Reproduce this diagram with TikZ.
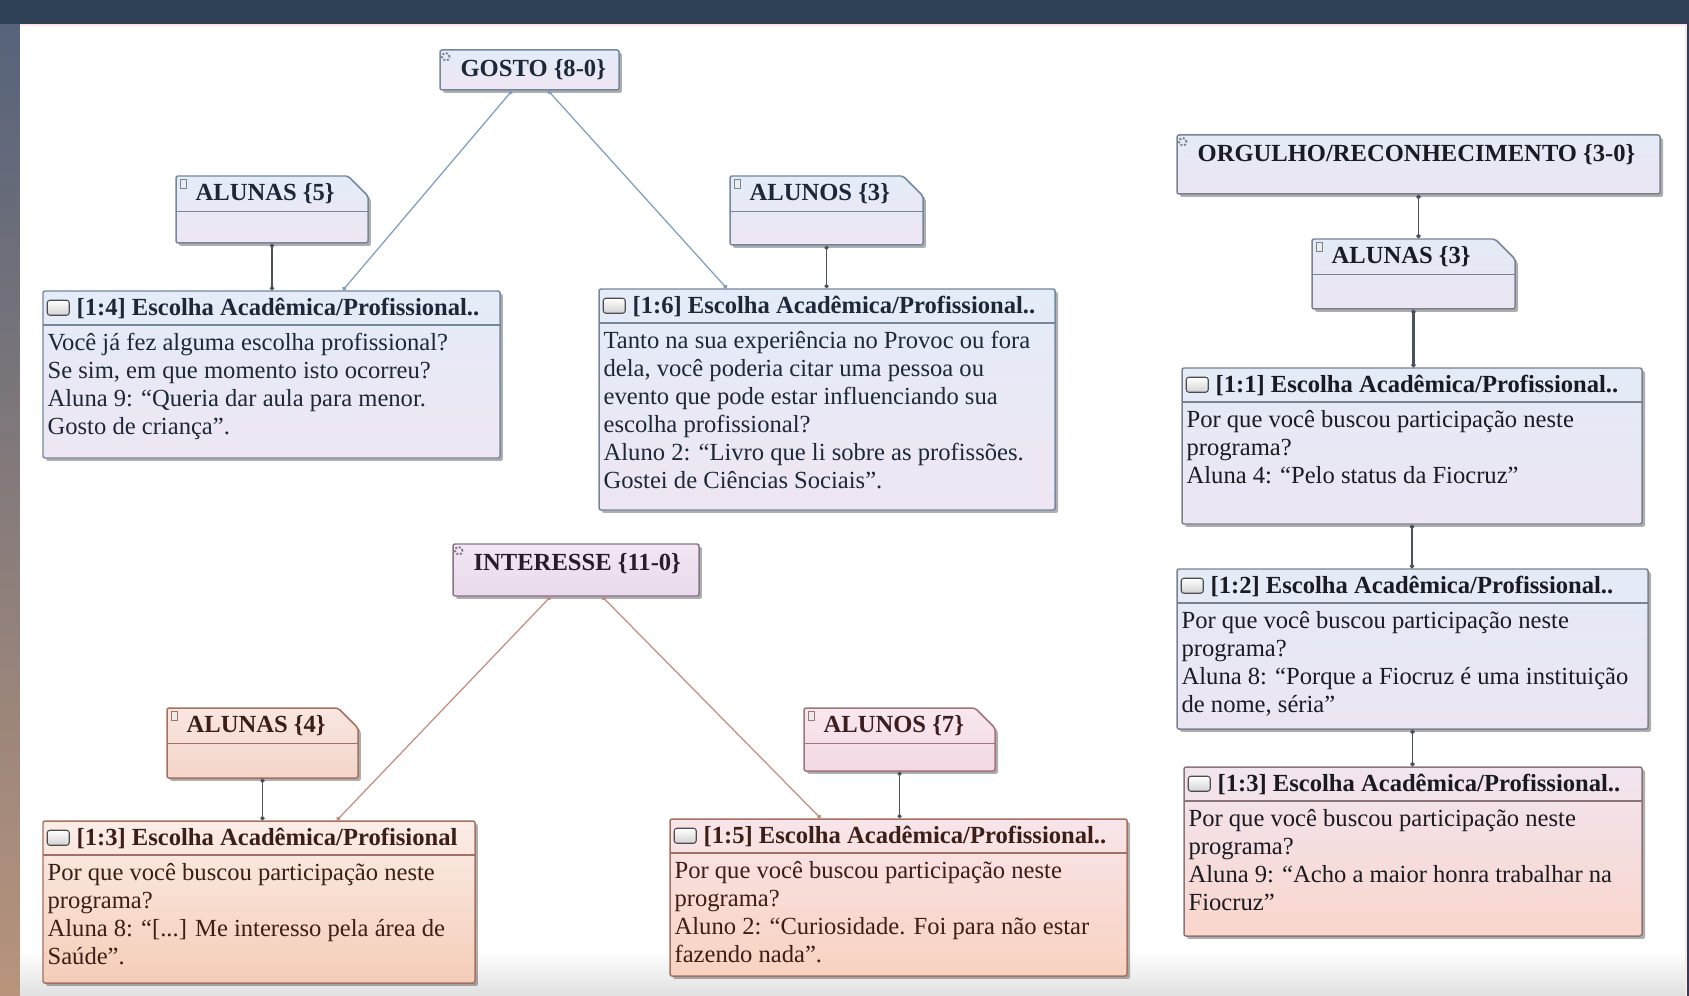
\documentclass[tikz,border=0pt]{standalone}
\usepackage{fontspec}
\setmainfont{Liberation Serif}
\usetikzlibrary{arrows.meta,positioning,fit,shadows,shapes.misc}

\definecolor{frame}{HTML}{2E4157}
\definecolor{side1}{HTML}{56637A}
\definecolor{side2}{HTML}{9C8A98}
\definecolor{side3}{HTML}{B8947C}
\definecolor{bltop}{HTML}{E3ECF8}
\definecolor{blbot}{HTML}{EEE6F2}
\definecolor{bledge}{HTML}{75879B}
\definecolor{bltext}{HTML}{1C2838}
\definecolor{lvtop}{HTML}{F2E7F2}
\definecolor{lvbot}{HTML}{E9D9EB}
\definecolor{lvedge}{HTML}{857585}
\definecolor{lvtext}{HTML}{2A1A2A}
\definecolor{pctop}{HTML}{FBEDE7}
\definecolor{pcbot}{HTML}{F4CDB8}
\definecolor{pcedge}{HTML}{A4705F}
\definecolor{pctext}{HTML}{3C1E16}
\definecolor{patop}{HTML}{F9E7E1}
\definecolor{pabot}{HTML}{F3D4C8}
\definecolor{paedge}{HTML}{A4705F}
\definecolor{patext}{HTML}{3C1E16}
\definecolor{pktop}{HTML}{F8E8EF}
\definecolor{pkbot}{HTML}{F3D8E4}
\definecolor{pkedge}{HTML}{A07478}
\definecolor{pktext}{HTML}{3C1E20}
\definecolor{pptop}{HTML}{F8E5EA}
\definecolor{ppbot}{HTML}{F8D2C0}
\definecolor{ppedge}{HTML}{A4705F}
\definecolor{pptext}{HTML}{3C1E16}
\definecolor{gbtop}{HTML}{E3EBF7}
\definecolor{gbbot}{HTML}{ECE5F2}
\definecolor{gbedge}{HTML}{7A8292}
\definecolor{gbtext}{HTML}{1A1A22}
\definecolor{gptop}{HTML}{F1E5F0}
\definecolor{gpbot}{HTML}{FAD6CC}
\definecolor{gpedge}{HTML}{8A7478}
\definecolor{gptext}{HTML}{1A1A22}
\definecolor{blline}{HTML}{7E9DC0}
\definecolor{bnline}{HTML}{C38D7F}
\definecolor{grline}{HTML}{4A525C}

\tikzset{
  skin/.style={draw=#1edge, top color=#1top, bottom color=#1bot},
  box/.style={line width=0.85pt, inner sep=0pt, rounded corners=1.2pt,
    drop shadow={shadow xshift=1.7pt, shadow yshift=-1.7pt, fill=black!70, opacity=0.45}},
  rule/.style 2 args={path picture={\draw[#1, line width=0.85pt]
      ([yshift=-#2]path picture bounding box.north west) --
      ([yshift=-#2]path picture bounding box.north east);}},
  tab/.style={chamfered rectangle, chamfered rectangle corners=north east,
    chamfered rectangle xsep=0.2cm, chamfered rectangle ysep=0.2cm},
  title/.style={inner sep=0pt, font=\bfseries\fontsize{14}{16}\selectfont},
  head/.style={inner sep=0pt, font=\bfseries\fontsize{14}{16}\selectfont},
  body/.style={inner sep=0pt, align=left, font=\fontsize{14}{15.9}\selectfont},
  codeicon/.style={circle, draw, densely dotted, line width=1.1pt, minimum size=0.15cm, inner sep=0pt},
  tabicon/.style={rectangle, draw, fill=gray!15, line width=0.5pt, minimum width=0.13cm,
    minimum height=0.17cm, inner sep=0pt},
  qicon/.style={rectangle, draw=gray!60!black, top color=white, bottom color=gray!35,
    line width=0.6pt, rounded corners=1.5pt, minimum width=0.44cm, minimum height=0.3cm, inner sep=0pt},
  link/.style={line width=0.7pt, {Circle[length=2.4pt]}-{Circle[length=2.4pt]}},
}

\newcommand{\CodeNode}[7]{%
  \node[box, skin=#6, fit={(#2,#3) (#4,#5)}] (#1) {};
  \node[codeicon, draw=#6edge] (#1-icon) at ([xshift=0.13cm, yshift=-0.15cm]#1.north west) {};
  \node[title, text=#6text, anchor=west] (#1-title) at ([xshift=0.42cm, yshift=-0.4cm]#1.north west) {#7};
}
\newcommand{\TabNode}[7]{%
  \node[box, tab, skin=#6, rule={#6edge}{0.71cm}, fit={({#2+10},{#3+10}) ({#4-10},{#5-10})}] (#1) {};
  \node[tabicon, draw=#6edge] (#1-icon) at ([xshift=0.16cm, yshift=-0.17cm]#1.north west) {};
  \node[title, text=#6text, anchor=west] (#1-title) at ([xshift=0.4cm, yshift=-0.36cm]#1.north west) {#7};
}
\newcommand{\QuoteNode}[8]{%
  \node[box, skin=#6, rule={#6edge}{0.68cm}, fit={(#2,#3) (#4,#5)}] (#1) {};
  \node[qicon] (#1-icon) at ([xshift=0.32cm, yshift=-0.35cm]#1.north west) {};
  \node[head, text=#6text, anchor=west] (#1-head) at ([xshift=0.68cm, yshift=-0.37cm]#1.north west) {#7};
  \node[body, text=#6text, anchor=north west] (#1-body) at ([xshift=0.1cm, yshift=-0.86cm]#1.north west) {#8};
}

\begin{document}
\begin{tikzpicture}[x=0.02cm, y=-0.02cm]
  \useasboundingbox (0,0) rectangle (1689,996);
  \fill[frame] (0,0) rectangle (1689,996);
  \shade[top color=side1, middle color=side2, bottom color=side3] (0,25) rectangle (20,996);
  \fill[white] (20,25) rectangle (1686,996);
  \shade[top color=white, bottom color=black!12] (20,950) rectangle (1686,996);
  \draw[pink!40, line width=1pt] (20,25) -- (1686,25) -- (1686,996);

  \CodeNode{gosto}{440}{50}{619}{90}{bl}{GOSTO \{8-0\}}
  \TabNode{alunas5}{176}{176}{368}{243}{bl}{ALUNAS \{5\}}
  \TabNode{alunos3}{730}{176}{923}{245}{bl}{ALUNOS \{3\}}
  \QuoteNode{q14}{43}{291}{500}{458}{bl}{[1:4] Escolha Acadêmica/Profissional..}
    {Você já fez alguma escolha profissional?\\Se sim, em que momento isto ocorreu?\\Aluna 9: “Queria dar aula para menor.\\Gosto de criança”.}
  \QuoteNode{q16}{599}{289}{1055}{510}{bl}{[1:6] Escolha Acadêmica/Profissional..}
    {Tanto na sua experiência no Provoc ou fora\\dela, você poderia citar uma pessoa ou\\evento que pode estar influenciando sua\\escolha profissional?\\Aluno 2: “Livro que li sobre as profissões.\\Gostei de Ciências Sociais”.}

  \CodeNode{interesse}{453}{544}{699}{596}{lv}{INTERESSE \{11-0\}}
  \TabNode{alunas4}{167}{708}{358}{778}{pa}{ALUNAS \{4\}}
  \TabNode{alunos7}{804}{708}{995}{771}{pk}{ALUNOS \{7\}}
  \QuoteNode{q13l}{43}{821}{475}{983}{pc}{[1:3] Escolha Acadêmica/Profisional}
    {Por que você buscou participação neste\\programa?\\Aluna 8: “[...] Me interesso pela área de\\Saúde”.}
  \QuoteNode{q15}{670}{819}{1127}{976}{pp}{[1:5] Escolha Acadêmica/Profissional..}
    {Por que você buscou participação neste\\programa?\\Aluno 2: “Curiosidade. Foi para não estar\\fazendo nada”.}

  \CodeNode{orgulho}{1177}{135}{1660}{194}{gb}{ORGULHO/RECONHECIMENTO \{3-0\}}
  \TabNode{alunas3}{1312}{239}{1515}{309}{gb}{ALUNAS \{3\}}
  \QuoteNode{q11}{1182}{368}{1642}{524}{gb}{[1:1] Escolha Acadêmica/Profissional..}
    {Por que você buscou participação neste\\programa?\\Aluna 4: “Pelo status da Fiocruz”}
  \QuoteNode{q12}{1177}{569}{1648}{729}{gb}{[1:2] Escolha Acadêmica/Profissional..}
    {Por que você buscou participação neste\\programa?\\Aluna 8: “Porque a Fiocruz é uma instituição\\de nome, séria”}
  \QuoteNode{q13r}{1184}{767}{1642}{936}{gp}{[1:3] Escolha Acadêmica/Profissional..}
    {Por que você buscou participação neste\\programa?\\Aluna 9: “Acho a maior honra trabalhar na\\Fiocruz”}

  \draw[link, blline] (gosto) -- (q14);
  \draw[link, blline] (gosto) -- (q16);
  \draw[link, grline] (alunas5.south) -- (alunas5.south |- q14.north);
  \draw[link, grline] (alunos3.south) -- (alunos3.south |- q16.north);
  \draw[link, bnline] (interesse) -- (q13l);
  \draw[link, bnline] (interesse) -- (q15);
  \draw[link, grline] (alunas4.south) -- (alunas4.south |- q13l.north);
  \draw[link, grline] (alunos7.south) -- (alunos7.south |- q15.north);
  \draw[link, grline, line width=1pt] (orgulho.south) -- (orgulho.south |- alunas3.north);
  \draw[link, grline, line width=1.6pt] (alunas3.south) -- (alunas3.south |- q11.north);
  \draw[link, grline, line width=1pt] (q11.south) -- (q11.south |- q12.north);
  \draw[link, grline, line width=1pt] (q12.south) -- (q12.south |- q13r.north);
\end{tikzpicture}
\end{document}
